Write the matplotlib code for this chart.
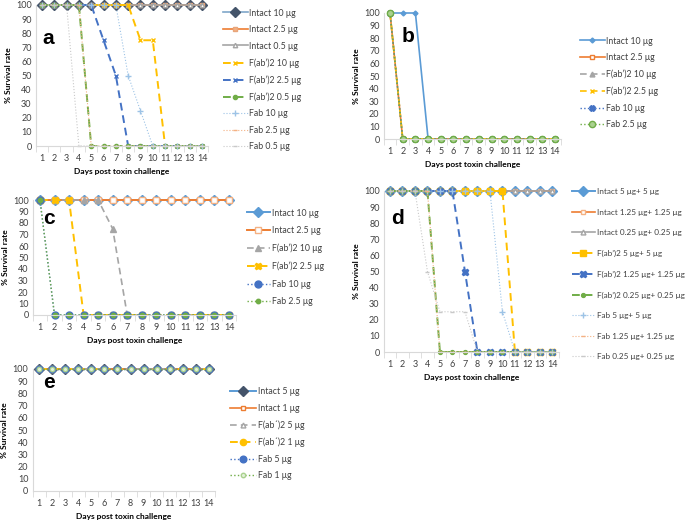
import matplotlib
matplotlib.use("Agg")
import matplotlib.pyplot as plt

plt.rcParams['font.family'] = ['Lato', 'DejaVu Sans']

days = list(range(1, 15))

# Panel a
a_intact10 = [100]*14
a_intact25 = [100]*14
a_intact05 = [100]*14
a_f10 = [100, 100, 100, 100, 100, 100, 100, 100, 75, 75, 0, 0, 0, 0]
a_f25 = [100, 100, 100, 100, 100, 75, 50, 0, 0, 0, 0, 0, 0, 0]
a_f05 = [100, 100, 100, 100, 0, 0, 0, 0, 0, 0, 0, 0, 0, 0]
a_fab10 = [100, 100, 100, 100, 100, 100, 100, 50, 25, 0, 0, 0, 0, 0]
a_fab25 = [100, 100, 100, 100, 0, 0, 0, 0, 0, 0, 0, 0, 0, 0]
a_fab05 = [100, 100, 100, 0, 0, 0, 0, 0, 0, 0, 0, 0, 0, 0]
a_labels = ["Intact 10 μg", "Intact 2.5 μg", "Intact 0.5 μg", "F(ab’)2 10 μg",
            "F(ab’)2 2.5 μg", "F(ab’)2 0.5 μg", "Fab 10 μg", "Fab 2.5 μg", "Fab 0.5 μg"]

# Panel b
b_intact10 = [100, 100, 100, 0, 0, 0, 0, 0, 0, 0, 0, 0, 0, 0]
b_intact25 = [100, 0, 0, 0, 0, 0, 0, 0, 0, 0, 0, 0, 0, 0]
b_f10 = [100, 0, 0, 0, 0, 0, 0, 0, 0, 0, 0, 0, 0, 0]
b_f25 = [100, 0, 0, 0, 0, 0, 0, 0, 0, 0, 0, 0, 0, 0]
b_fab10 = [100, 0, 0, 0, 0, 0, 0, 0, 0, 0, 0, 0, 0, 0]
b_fab25 = [100, 0, 0, 0, 0, 0, 0, 0, 0, 0, 0, 0, 0, 0]
b_labels = ["Intact 10 μg", "Intact 2.5 μg", "F(ab’)2 10 μg", "F(ab’)2 2.5 μg",
            "Fab 10 μg", "Fab 2.5 μg"]

# Panel c
c_intact10 = [100]*14
c_intact25 = [100]*14
c_f10 = [100, 100, 100, 100, 100, 75, 0, 0, 0, 0, 0, 0, 0, 0]
c_f25 = [100, 100, 100, 0, 0, 0, 0, 0, 0, 0, 0, 0, 0, 0]
c_fab10 = [100, 0, 0, 0, 0, 0, 0, 0, 0, 0, 0, 0, 0, 0]
c_fab25 = [100, 0, 0, 0, 0, 0, 0, 0, 0, 0, 0, 0, 0, 0]
c_labels = ["Intact 10 μg", "Intact 2.5 μg", "F(ab’)2 10 μg", "F(ab’)2 2.5 μg",
            "Fab 10 μg", "Fab 2.5 μg"]

# Panel d
d_intact5 = [100]*14
d_intact125 = [100]*14
d_intact025 = [100]*14
d_f5 = [100, 100, 100, 100, 100, 100, 100, 100, 100, 100, 0, 0, 0, 0]
d_f125 = [100, 100, 100, 100, 100, 100, 50, 0, 0, 0, 0, 0, 0, 0]
d_f025 = [100, 100, 100, 100, 0, 0, 0, 0, 0, 0, 0, 0, 0, 0]
d_fab5 = [100, 100, 100, 100, 100, 100, 100, 100, 100, 25, 0, 0, 0, 0]
d_fab125 = [100, 100, 100, 100, 0, 0, 0, 0, 0, 0, 0, 0, 0, 0]
d_fab025 = [100, 100, 100, 50, 25, 25, 25, 0, 0, 0, 0, 0, 0, 0]
d_labels = ["Intact 5 μg+ 5 μg", "Intact 1.25 μg+ 1.25 μg", "Intact 0.25 μg+ 0.25 μg",
            "F(ab’)2 5 μg+ 5 μg", "F(ab’)2 1.25 μg+ 1.25 μg", "F(ab’)2 0.25 μg+ 0.25 μg",
            "Fab 5 μg+ 5 μg", "Fab 1.25 μg+ 1.25 μg", "Fab 0.25 μg+ 0.25 μg"]

# Panel e
e_intact5 = [100]*14
e_intact1 = [100]*14
e_f5 = [100]*14
e_f1 = [100]*14
e_fab5 = [100]*14
e_fab1 = [100]*14
e_labels = ["Intact 5 μg", "Intact 1 μg", "F(ab´)2 5 μg", "F(ab´)2 1 μg",
            "Fab 5 μg", "Fab 1 μg"]

BLUE = '#5B9BD5'; ORANGE = '#ED7D31'; GRAY = '#A5A5A5'; GOLD = '#FFC000'
DBLUE = '#4472C4'; GREEN = '#70AD47'; NAVY = '#44546A'
LBLUE = '#9DC3E6'; LORANGE = '#F4B183'; LGRAY = '#C9C9C9'

W, H = 685, 521
fig = plt.figure(figsize=(W/100, H/100), dpi=100)

def make_ax(x0, x1, ytop, ybot):
    ax = fig.add_axes([x0/W, 1 - ybot/H, (x1-x0)/W, (ybot-ytop)/H])
    ax.set_xlim(0.5, 14.5)
    ax.set_ylim(0, 100)
    ax.set_yticks(range(0, 101, 10))
    ax.set_xticks(days)
    ax.set_xticks([d + 0.5 for d in range(0, 15)], minor=True)
    ax.tick_params(axis='x', which='major', length=0, labelsize=6.5, pad=6, colors='#404040')
    ax.tick_params(axis='x', which='minor', length=4, color='#D9D9D9', direction='out')
    ax.tick_params(axis='y', length=0, labelsize=6.5, pad=3, colors='#404040')
    for s in ['top', 'right']:
        ax.spines[s].set_visible(False)
    for s in ['left', 'bottom']:
        ax.spines[s].set_color('#D9D9D9')
        ax.spines[s].set_linewidth(0.8)
    ax.set_xlabel('Days post toxin challenge', fontsize=6, fontweight='bold', labelpad=3.5)
    ax.set_ylabel('% Survival rate', fontsize=6, fontweight='bold', labelpad=3)
    return ax

def draw(ax, series, labels, styles):
    handles = []
    for ys, lab, st in zip(series, labels, styles):
        ln, = ax.plot(days, ys, label=lab, clip_on=False, **st)
        handles.append(ln)
    return handles

def legend(ax, handles, x, ytop, spacing, hl=2.8, fs=6.3):
    leg = ax.legend(handles=handles, loc='upper left', bbox_to_anchor=(x/W, 1 - ytop/H),
                    bbox_transform=fig.transFigure, frameon=False, fontsize=fs,
                    handlelength=hl, handletextpad=0.2, borderpad=0, borderaxespad=0,
                    labelspacing=spacing, labelcolor='#404040')
    return leg

def letter(x, y, t):
    fig.text(x/W, 1 - y/H, t, fontsize=15, fontweight='bold', ha='center', va='center',
             family=['Liberation Sans', 'DejaVu Sans'])

# ---------- a ----------
ax = make_ax(35.8, 208.2, 5, 146)
st_a = [
    dict(color='#7FA7C9', lw=1.2, marker='D', ms=5.5, mfc=NAVY, mec=NAVY),
    dict(color=ORANGE, lw=1.2, marker='s', ms=3.5, mfc=LORANGE, mec='#E8A57A'),
    dict(color=GRAY, lw=1.2, marker='^', ms=3.2, mfc='white', mec=GRAY),
    dict(color=GOLD, lw=1.4, ls=(0, (4, 2.5)), marker='x', ms=3.5, mec=GOLD),
    dict(color=DBLUE, lw=1.4, ls=(0, (4, 2.5)), marker='x', ms=3.5, mec=DBLUE),
    dict(color=GREEN, lw=1.4, ls=(0, (4, 2.5)), marker='o', ms=3.0, mfc=GREEN, mec=GREEN),
    dict(color=LBLUE, lw=0.8, ls=':', marker='+', ms=4, mec=LBLUE),
    dict(color=LORANGE, lw=0.8, ls=':', marker='_', ms=3, mec=LORANGE),
    dict(color=LGRAY, lw=0.8, ls=':', marker='_', ms=3, mec=LGRAY),
]
h = draw(ax, [a_intact10, a_intact25, a_intact05, a_f10, a_f25, a_f05, a_fab10, a_fab25, a_fab05],
         a_labels, st_a)
legend(ax, h, 223, 8.5, 0.86)
letter(48, 38, 'a')

# ---------- b ----------
ax = make_ax(383.7, 561.3, 13, 139)
st_b = [
    dict(color=BLUE, lw=1.2, marker='D', ms=2.5, mfc=BLUE, mec=BLUE),
    dict(color=ORANGE, lw=1.2, marker='s', ms=3.5, mfc='white', mec=ORANGE),
    dict(color=GRAY, lw=1.2, ls=(0, (4, 2.5)), marker='^', ms=3.5, mfc=GRAY, mec=GRAY),
    dict(color=GOLD, lw=1.2, ls=(0, (4, 2.5)), marker='x', ms=3.2, mec=GOLD),
    dict(color=DBLUE, lw=1.0, ls=':', marker='X', ms=4, mfc=DBLUE, mec=DBLUE),
    dict(color=GREEN, lw=1.0, ls=':', marker='o', ms=4.5, mfc='#A9D18E', mec=GREEN),
]
h = draw(ax, [b_intact10, b_intact25, b_f10, b_f25, b_fab10, b_fab25], b_labels, st_b)
legend(ax, h, 580, 36.5, 0.86)
letter(408, 37, 'b')

# ---------- c ----------
ax = make_ax(32.7, 236.3, 200, 315)
st_c = [
    dict(color=BLUE, lw=1.4, marker='D', ms=5.5, mfc=BLUE, mec=BLUE),
    dict(color=ORANGE, lw=1.4, marker='s', ms=4, mfc='white', mec=LORANGE),
    dict(color=GRAY, lw=1.2, ls=(0, (4, 2.5)), marker='^', ms=4.5, mfc=GRAY, mec=GRAY),
    dict(color=GOLD, lw=1.4, ls=(0, (4, 2.5)), marker='X', ms=5, mfc=GOLD, mec=GOLD),
    dict(color=DBLUE, lw=1.0, ls=':', marker='o', ms=5, mfc=DBLUE, mec=DBLUE),
    dict(color=GREEN, lw=1.0, ls=':', marker='o', ms=3.2, mfc=GREEN, mec=GREEN),
]
h = draw(ax, [c_intact10, c_intact25, c_f10, c_f25, c_fab10, c_fab25], c_labels, st_c)
legend(ax, h, 247, 208.5, 0.98, hl=2.6)
letter(49, 218, 'c')

# ---------- d ----------
ax = make_ax(383.7, 558.7, 191, 352)
st_d = [
    dict(color=BLUE, lw=1.4, marker='D', ms=5.5, mfc=BLUE, mec=BLUE),
    dict(color=ORANGE, lw=1.2, marker='s', ms=3.5, mfc='white', mec=LORANGE),
    dict(color=GRAY, lw=1.2, marker='^', ms=3.5, mfc='white', mec=GRAY),
    dict(color=GOLD, lw=1.4, ls=(0, (4, 2.5)), marker='s', ms=4, mfc=GOLD, mec=GOLD),
    dict(color=DBLUE, lw=1.4, ls=(0, (4, 2.5)), marker='X', ms=4.5, mfc=DBLUE, mec=DBLUE),
    dict(color=GREEN, lw=1.4, ls=(0, (4, 2.5)), marker='o', ms=2.8, mfc=GREEN, mec=GREEN),
    dict(color=LBLUE, lw=0.8, ls=':', marker='+', ms=4, mec=LBLUE),
    dict(color=LORANGE, lw=0.8, ls=':', marker='_', ms=3, mec=LORANGE),
    dict(color=LGRAY, lw=0.8, ls=':', marker='_', ms=3, mec=LGRAY),
]
h = draw(ax, [d_intact5, d_intact125, d_intact025, d_f5, d_f125, d_f025, d_fab5, d_fab125, d_fab025],
         d_labels, st_d)
legend(ax, h, 572, 188, 1.66, fs=5.9)
letter(398, 218, 'd')

# ---------- e ----------
ax = make_ax(32.5, 215.5, 369, 491)
st_e = [
    dict(color=BLUE, lw=1.4, marker='D', ms=5.5, mfc=NAVY, mec=NAVY),
    dict(color=ORANGE, lw=1.2, marker='s', ms=3.5, mfc='white', mec=ORANGE),
    dict(color=GRAY, lw=1.2, ls=(0, (4, 2.5)), marker='^', ms=3.5, mfc='white', mec=GRAY),
    dict(color=GOLD, lw=1.4, ls=(0, (4, 2.5)), marker='o', ms=4.5, mfc=GOLD, mec=GOLD),
    dict(color=DBLUE, lw=1.0, ls=':', marker='o', ms=4.8, mfc=DBLUE, mec=DBLUE),
    dict(color=GREEN, lw=1.0, ls=':', marker='o', ms=3.2, mfc='#E2F0D9', mec='#A9D18E'),
]
h = draw(ax, [e_intact5, e_intact1, e_f5, e_f1, e_fab5, e_fab1], e_labels, st_e)
legend(ax, h, 230, 387.5, 0.86, hl=3.0)
letter(49, 383, 'e')

fig.savefig('out.png', dpi=100)
